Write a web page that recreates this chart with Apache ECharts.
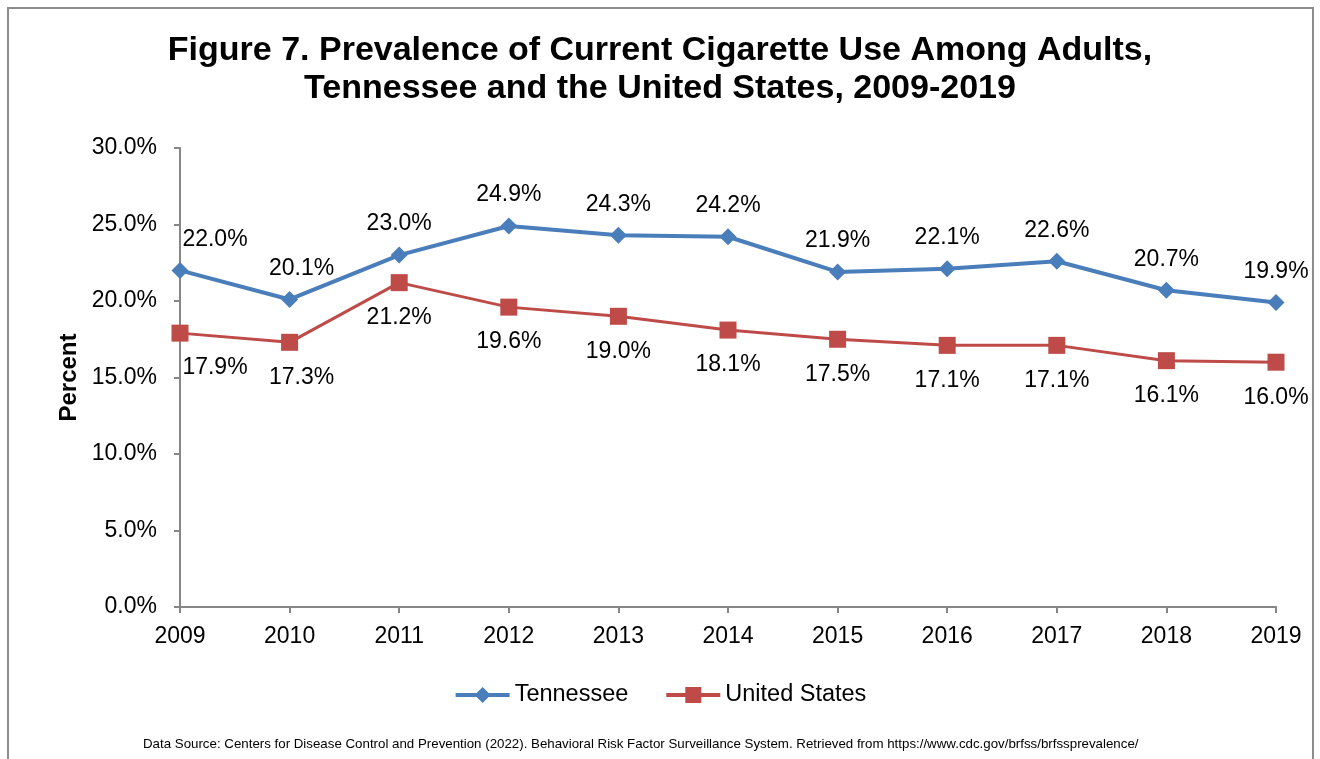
<!DOCTYPE html>
<html>
<head>
<meta charset="utf-8">
<script src="https://cdn.jsdelivr.net/npm/echarts@6/dist/echarts.min.js"></script>
<style>
  html, body { margin: 0; padding: 0; background: #ffffff; }
  #chart { width: 1320px; height: 759px; }
</style>
</head>
<body>
<div id="chart"></div>
<script>
// Adult cigarette use, 2009-2019 (percent)
const years = ['2009', '2010', '2011', '2012', '2013', '2014', '2015', '2016', '2017', '2018', '2019'];
const tennessee = [22.0, 20.1, 23.0, 24.9, 24.3, 24.2, 21.9, 22.1, 22.6, 20.7, 19.9];
const unitedStates = [17.9, 17.3, 21.2, 19.6, 19.0, 18.1, 17.5, 17.1, 17.1, 16.1, 16.0];
const yTicks = { min: 0, max: 30, step: 5 };

const FONT = '"Liberation Sans", Arial, Helvetica, sans-serif';
const AXIS_GRAY = '#868686';
const BLUE = '#4a7ebb';
const RED = '#be4b48';

// first two points get their labels nudged right so they clear the y-axis
const labelShift = [35, 12];

function withShift(values) {
  return values.map((v, i) => (labelShift[i] !== undefined
    ? { value: v, label: { offset: [labelShift[i], 0] } }
    : v));
}

const chart = echarts.init(document.getElementById('chart'), null, { renderer: 'canvas' });

chart.setOption({
  backgroundColor: '#ffffff',
  animation: false,
  title: {
    text: 'Figure 7. Prevalence of Current Cigarette Use Among Adults,\nTennessee and the United States, 2009-2019',
    left: 'center',
    top: 27,
    textStyle: {
      fontFamily: FONT,
      fontWeight: 'bold',
      fontSize: 34,
      lineHeight: 38,
      color: '#000000'
    }
  },
  graphic: [{
    type: 'rect',
    shape: { x: 8, y: 8, width: 1305, height: 780 },
    style: { fill: 'none', stroke: '#8c8c8c', lineWidth: 2 },
    silent: true,
    z: -1
  }, {
    type: 'text',
    left: 143,
    top: 738,
    style: {
      text: 'Data Source: Centers for Disease Control and Prevention (2022). Behavioral Risk Factor Surveillance System. Retrieved from https://www.cdc.gov/brfss/brfssprevalence/',
      font: '13.3px ' + FONT,
      fill: '#000000'
    }
  }],
  legend: {
    top: 678,
    left: 'center',
    itemWidth: 54,
    itemHeight: 20,
    itemGap: 36,
    textStyle: { fontFamily: FONT, fontSize: 23.5, color: '#000000' },
    data: [
      { name: 'Tennessee', lineStyle: { width: 4, color: BLUE } },
      { name: 'United States', lineStyle: { width: 4, color: RED } }
    ]
  },
  grid: {
    left: 180,
    right: 44,
    top: 148,
    bottom: 152,
    containLabel: false
  },
  xAxis: {
    type: 'category',
    data: years,
    boundaryGap: false,
    axisLine: { lineStyle: { color: AXIS_GRAY, width: 2 } },
    axisTick: { show: true, alignWithLabel: true, length: 6, lineStyle: { color: AXIS_GRAY, width: 2 } },
    axisLabel: { fontFamily: FONT, fontSize: 23, color: '#000000', margin: 18 },
    splitLine: { show: false }
  },
  yAxis: {
    type: 'value',
    min: yTicks.min,
    max: yTicks.max,
    interval: yTicks.step,
    name: 'Percent',
    nameLocation: 'middle',
    nameRotate: 90,
    nameGap: 94,
    nameTextStyle: { fontFamily: FONT, fontSize: 24, fontWeight: 'bold', color: '#000000' },
    axisLine: { show: true, lineStyle: { color: AXIS_GRAY, width: 2 } },
    axisTick: { show: true, length: 6, lineStyle: { color: AXIS_GRAY, width: 2 } },
    axisLabel: {
      fontFamily: FONT, fontSize: 23, color: '#000000', margin: 23,
      padding: [6, 0, 0, 0],
      formatter: v => v.toFixed(1) + '%'
    },
    splitLine: { show: false }
  },
  series: [{
    name: 'Tennessee',
    type: 'line',
    data: withShift(tennessee),
    symbol: 'diamond',
    symbolSize: 17,
    itemStyle: { color: BLUE },
    lineStyle: { color: BLUE, width: 4 },
    label: {
      show: true,
      position: 'top',
      distance: 11,
      fontFamily: FONT,
      fontSize: 23,
      color: '#000000',
      formatter: p => Number(p.value).toFixed(1) + '%'
    },
    z: 3
  }, {
    name: 'United States',
    type: 'line',
    data: withShift(unitedStates),
    symbol: 'rect',
    symbolSize: 17,
    itemStyle: { color: RED },
    lineStyle: { color: RED, width: 3 },
    label: {
      show: true,
      position: 'bottom',
      distance: 15,
      fontFamily: FONT,
      fontSize: 23,
      color: '#000000',
      formatter: p => Number(p.value).toFixed(1) + '%'
    },
    z: 2
  }]
});
</script>
</body>
</html>
